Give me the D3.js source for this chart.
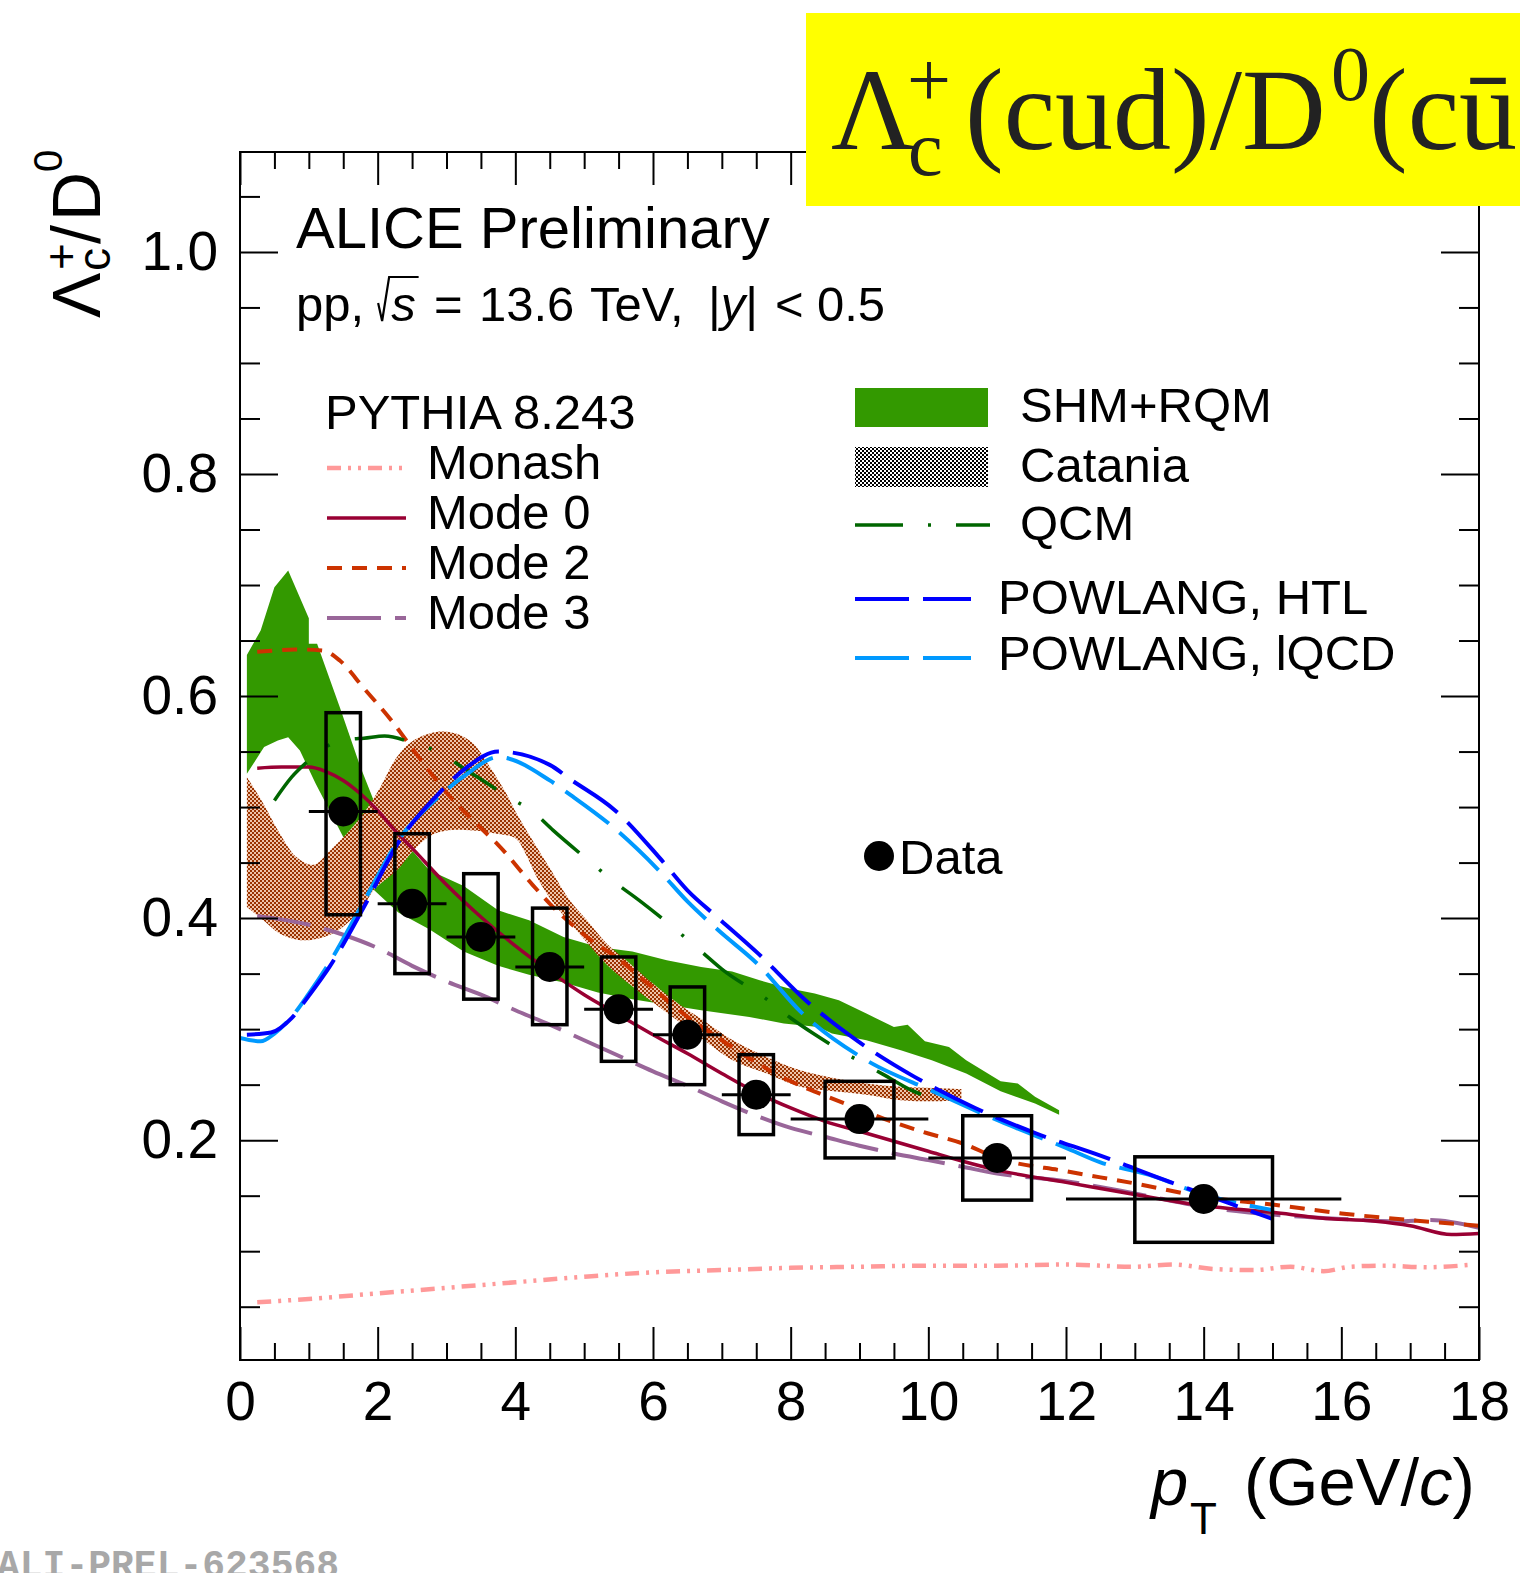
<!DOCTYPE html>
<html>
<head>
<meta charset="utf-8">
<script src="https://cdn.jsdelivr.net/npm/d3@7"></script>
<style>
  html, body { margin: 0; padding: 0; background: #fff; }
  svg { display: block; }
  text { font-family: "Liberation Sans", Arial, Helvetica, sans-serif; white-space: pre; }
</style>
</head>
<body>
<svg id="chart" width="1520" height="1573"></svg>
<script>
// ---------- data: Lambda_c+/D0 ratio, pp at 13.6 TeV ----------
const ptCenter  = [1.5, 2.5, 3.5, 4.5, 5.5, 6.5, 7.5, 9, 11, 14];
const ptHalfBin = [0.5, 0.5, 0.5, 0.5, 0.5, 0.5, 0.5, 1, 1, 2];
const boxHalfW  = [0.25, 0.25, 0.25, 0.25, 0.25, 0.25, 0.25, 0.5, 0.5, 1];
const ratio     = [0.496, 0.413, 0.383, 0.356, 0.318, 0.295, 0.241, 0.219, 0.184, 0.147];
const systHigh  = [0.585, 0.476, 0.440, 0.409, 0.365, 0.338, 0.277, 0.253, 0.222, 0.185];
const systLow   = [0.403, 0.350, 0.327, 0.304, 0.271, 0.250, 0.205, 0.184, 0.146, 0.108];

// PYTHIA 8.243 tunes
const monash = [[0.25,0.054],[1,0.057],[2,0.062],[3,0.067],[4,0.072],[5,0.077],[6,0.081],[7,0.083],[8,0.085],[9,0.086],[10,0.087],[11,0.087],[12,0.088],[12.98,0.086],[13.56,0.088],[14.14,0.084],[14.72,0.083],[15.26,0.086],[15.74,0.082],[16.13,0.086],[16.6,0.087],[17.24,0.0855],[17.92,0.088]];
const mode0 = [[0.25,0.535],[0.6,0.536],[1.0,0.536],[1.25,0.532],[1.5,0.524],[1.75,0.512],[2.0,0.497],[2.25,0.479],[2.5,0.463],[3.0,0.430],[3.5,0.401],[4.0,0.375],[4.5,0.352],[5.0,0.331],[5.5,0.313],[6.0,0.295],[6.5,0.278],[7.0,0.260],[7.5,0.243],[8.0,0.229],[8.5,0.217],[9.0,0.208],[9.5,0.199],[10.0,0.190],[10.5,0.181],[11.0,0.173],[12.0,0.162],[13.0,0.151],[14.0,0.141],[15.0,0.135],[15.7,0.130],[16.5,0.127],[17.0,0.123],[17.6,0.115],[18,0.116]];
const mode2 = [[0.25,0.640],[0.5,0.641],[0.8,0.642],[1.2,0.641],[1.45,0.632],[1.8,0.607],[2.2,0.578],[2.5,0.553],[3.0,0.513],[3.5,0.481],[3.75,0.466],[4.25,0.430],[4.5,0.413],[5.0,0.385],[5.5,0.363],[6.0,0.337],[6.5,0.311],[7.0,0.290],[7.5,0.270],[8.0,0.253],[8.5,0.240],[9.0,0.228],[9.5,0.216],[10.0,0.206],[10.5,0.197],[11.0,0.184],[12.0,0.172],[13.0,0.161],[14.0,0.149],[15.0,0.142],[16.0,0.134],[17.0,0.128],[18,0.123]];
const mode3 = [[0.25,0.402],[1.0,0.394],[1.5,0.385],[2.0,0.373],[2.5,0.357],[3.0,0.343],[3.5,0.331],[4.0,0.317],[4.5,0.304],[5.0,0.290],[5.5,0.276],[6.0,0.262],[6.5,0.249],[7.0,0.235],[7.5,0.222],[8.0,0.211],[8.5,0.203],[9.0,0.195],[9.5,0.188],[10.0,0.182],[10.5,0.176],[11.0,0.170],[12.0,0.163],[13.0,0.152],[14.0,0.140],[15.0,0.133],[16.0,0.129],[16.8,0.127],[17.3,0.128],[18,0.121]];

// transport / coalescence models
const powlangHTL = [[0.1,0.295],[0.45,0.297],[0.75,0.310],[1.0,0.330],[1.3,0.356],[1.8,0.410],[2.3,0.468],[2.9,0.513],[3.3,0.536],[3.75,0.550],[4.5,0.538],[4.8,0.525],[5.45,0.497],[6.1,0.454],[6.5,0.425],[6.95,0.400],[7.53,0.368],[8.2,0.327],[8.98,0.289],[9.8,0.257],[10.68,0.229],[11.57,0.206],[12.5,0.186],[13.44,0.164],[14.38,0.143],[15.0,0.129]];
const powlangLQCD = [[0.0,0.292],[0.3,0.289],[0.5,0.296],[0.75,0.311],[1.0,0.332],[1.3,0.360],[1.8,0.415],[2.3,0.470],[2.9,0.510],[3.3,0.530],[3.75,0.545],[4.5,0.524],[4.8,0.511],[5.4,0.483],[6.1,0.442],[6.5,0.415],[6.95,0.389],[7.53,0.358],[8.14,0.316],[9.1,0.272],[10.07,0.244],[11.04,0.217],[12.0,0.193],[12.5,0.180],[13.2,0.169],[13.95,0.152],[15.0,0.137]];
const qcm = [[0.5,0.506],[0.75,0.527],[1.0,0.542],[1.3,0.556],[1.6,0.561],[1.8,0.562],[2.1,0.564],[2.5,0.558],[2.9,0.549],[3.25,0.535],[3.5,0.525],[3.9,0.509],[4.25,0.496],[4.55,0.479],[5.1,0.450],[5.45,0.432],[5.8,0.416],[6.4,0.386],[6.7,0.370],[7.0,0.354],[7.65,0.327],[8.0,0.310],[8.33,0.296],[9.0,0.271],[9.35,0.259],[9.75,0.245],[9.9,0.241]];

// model bands (upper and lower edges)
const shmUpper = [[0.1,0.637],[0.3,0.659],[0.5,0.698],[0.7,0.713],[1.0,0.670],[1.0,0.647],[1.12,0.647],[1.45,0.590],[1.75,0.536],[2.0,0.497],[2.4,0.468],[2.75,0.443],[3.25,0.429],[3.75,0.407],[4.2,0.398],[4.7,0.383],[5.2,0.374],[5.7,0.370],[6.2,0.362],[6.7,0.356],[7.15,0.352],[7.55,0.344],[7.95,0.337],[8.35,0.332],[8.7,0.326],[9.1,0.314],[9.5,0.302],[9.7,0.304],[9.95,0.289],[10.3,0.284],[10.55,0.272],[11.05,0.253],[11.3,0.251],[11.55,0.239],[11.9,0.227]];
const shmLower = [[0.1,0.530],[0.35,0.554],[0.55,0.560],[0.7,0.563],[0.87,0.551],[1.1,0.521],[1.35,0.491],[1.7,0.449],[1.95,0.425],[2.3,0.405],[2.75,0.390],[3.25,0.370],[3.75,0.357],[4.2,0.349],[4.7,0.342],[5.2,0.333],[5.7,0.327],[6.2,0.322],[6.7,0.317],[7.4,0.311],[7.9,0.305],[8.4,0.302],[8.6,0.296],[9.1,0.290],[9.6,0.281],[10.05,0.272],[10.55,0.260],[11.05,0.244],[11.55,0.233],[11.9,0.223]];
const cataniaUpper = [[0.1,0.527],[0.34,0.503],[0.58,0.476],[0.82,0.455],[1.07,0.448],[1.31,0.461],[1.55,0.476],[1.79,0.494],[2.03,0.517],[2.28,0.545],[2.52,0.560],[2.9,0.568],[3.15,0.566],[3.39,0.557],[3.63,0.536],[3.87,0.512],[4.02,0.494],[4.31,0.464],[4.55,0.440],[4.79,0.416],[5.04,0.398],[5.33,0.377],[5.67,0.359],[6.0,0.341],[6.39,0.322],[6.68,0.310],[7.16,0.290],[7.65,0.275],[8.14,0.263],[8.62,0.256],[9.1,0.251],[9.59,0.248],[10.07,0.247],[10.48,0.246]];
const cataniaLower = [[0.1,0.410],[0.34,0.398],[0.58,0.386],[0.92,0.380],[1.31,0.385],[1.55,0.395],[1.79,0.410],[1.94,0.425],[2.28,0.443],[2.52,0.461],[2.76,0.474],[3.0,0.479],[3.39,0.479],[3.73,0.476],[4.0,0.472],[4.15,0.458],[4.31,0.437],[4.55,0.414],[5.0,0.381],[5.33,0.358],[5.71,0.338],[5.96,0.326],[6.68,0.293],[7.16,0.272],[7.65,0.260],[8.14,0.248],[8.62,0.244],[9.1,0.241],[9.6,0.236],[10.07,0.235],[10.48,0.236]];

// axis ticks
const xMajorTicks = [0, 2, 4, 6, 8, 10, 12, 14, 16, 18];
const yMajorTicks = [0.2, 0.4, 0.6, 0.8, 1.0];
const xMinorTicks = d3.range(0.5, 18, 0.5).filter(v => v % 2 !== 0);
const yMinorTicks = [0.05, 0.1, 0.15, 0.25, 0.3, 0.35, 0.45, 0.5, 0.55, 0.65, 0.7, 0.75, 0.85, 0.9, 0.95, 1.05];

// ---------- layout ----------
const L = 240, R = 1479, T = 152, B = 1360;
const svg = d3.select('#chart');
const x = d3.scaleLinear().domain([0, 18]).range([L, R]);
const y = d3.scaleLinear().domain([0.002, 1.09]).range([B, T]);

const defs = svg.append('defs');
defs.append('clipPath').attr('id', 'plotClip')
  .append('rect').attr('x', L).attr('y', T).attr('width', R - L).attr('height', B - T);
// fine checker fill: dark cells plus a lighter tint in the gaps
function checker(id, color, tint) {
  const p = defs.append('pattern').attr('id', id).attr('width', 4).attr('height', 4)
    .attr('patternUnits', 'userSpaceOnUse');
  const cells = [[0, 0, color], [2, 2, color], [2, 0, tint], [0, 2, tint]];
  cells.forEach(([cx, cy, c]) => {
    if (!c) return;
    p.append('rect').attr('x', cx).attr('y', cy).attr('width', 2).attr('height', 2)
      .attr('fill', c).attr('shape-rendering', 'crispEdges');
  });
}
checker('catPattern', '#9a3300', '#efc4aa');
checker('catLegend', '#000000', null);

const plot = svg.append('g').attr('clip-path', 'url(#plotClip)');

// band path: upper edge forward, lower edge backward
function bandPath(upper, lower, curve) {
  const ln = d3.line().x(d => x(d[0])).y(d => y(d[1])).curve(curve);
  const up = ln(upper);
  const lo = ln(lower.slice().reverse());
  return up + 'L' + lo.slice(1) + 'Z';
}

plot.append('path').attr('d', bandPath(shmUpper, shmLower, d3.curveLinear))
  .attr('fill', '#339900').attr('stroke', 'none');
plot.append('path').attr('d', bandPath(cataniaUpper, cataniaLower, d3.curveCatmullRom))
  .attr('fill', 'url(#catPattern)').attr('stroke', 'none');

const curveLine = d3.line().x(d => x(d[0])).y(d => y(d[1])).curve(d3.curveMonotoneX);
const styles = {
  monash: { color: '#ff9999', width: 4.5, dash: '14,7,3,7,3,7' },
  mode0:  { color: '#990033', width: 3.5, dash: null },
  mode2:  { color: '#cc3300', width: 4,   dash: '15,10' },
  mode3:  { color: '#996699', width: 4,   dash: '54,14' },
  qcm:    { color: '#006600', width: 3.5, dash: '50,26,3,26' },
  lqcd:   { color: '#0099ff', width: 4,   dash: '54,14' },
  htl:    { color: '#0000ff', width: 4,   dash: '54,14' }
};
function drawCurve(data, st) {
  plot.append('path').attr('d', curveLine(data)).attr('fill', 'none')
    .attr('stroke', st.color).attr('stroke-width', st.width)
    .attr('stroke-dasharray', st.dash);
}
drawCurve(monash, styles.monash);
drawCurve(mode3, styles.mode3);
drawCurve(mode2, styles.mode2);
drawCurve(mode0, styles.mode0);
drawCurve(qcm, styles.qcm);
drawCurve(powlangLQCD, styles.lqcd);
drawCurve(powlangHTL, styles.htl);

// ---------- data points ----------
const pts = ptCenter.map((c, i) => ({ c, hb: ptHalfBin[i], bw: boxHalfW[i], v: ratio[i], hi: systHigh[i], lo: systLow[i] }));
const dataG = svg.append('g');
dataG.selectAll('rect.syst').data(pts).join('rect').attr('class', 'syst')
  .attr('x', d => x(d.c - d.bw)).attr('y', d => y(d.hi))
  .attr('width', d => x(d.c + d.bw) - x(d.c - d.bw)).attr('height', d => y(d.lo) - y(d.hi))
  .attr('fill', 'none').attr('stroke', '#000').attr('stroke-width', 3.5);
dataG.selectAll('line.xerr').data(pts).join('line').attr('class', 'xerr')
  .attr('x1', d => x(d.c - d.hb)).attr('x2', d => x(d.c + d.hb))
  .attr('y1', d => y(d.v)).attr('y2', d => y(d.v))
  .attr('stroke', '#000').attr('stroke-width', 3);
dataG.selectAll('circle.pt').data(pts).join('circle').attr('class', 'pt')
  .attr('cx', d => x(d.c)).attr('cy', d => y(d.v)).attr('r', 15).attr('fill', '#000');

// ---------- axes ----------
const axG = svg.append('g');
function styleAxis(g, labelSize) {
  g.select('.domain').remove();
  g.selectAll('.tick line').attr('stroke', '#000').attr('stroke-width', 2);
  g.selectAll('.tick text').style('font-size', labelSize).style('fill', '#000')
    .style('font-family', '"Liberation Sans", Arial, sans-serif');
}
axG.append('g').attr('transform', `translate(0,${B})`)
  .call(d3.axisBottom(x).tickValues(xMajorTicks).tickSize(-33).tickPadding(21).tickFormat(d3.format('d')))
  .call(g => styleAxis(g, '55px'));
axG.append('g').attr('transform', `translate(0,${B})`)
  .call(d3.axisBottom(x).tickValues(xMinorTicks).tickSize(-17).tickFormat(''))
  .call(g => styleAxis(g, '0px'));
axG.append('g').attr('transform', `translate(0,${T})`)
  .call(d3.axisTop(x).tickValues(xMajorTicks).tickSize(-33).tickFormat(''))
  .call(g => styleAxis(g, '0px'));
axG.append('g').attr('transform', `translate(0,${T})`)
  .call(d3.axisTop(x).tickValues(xMinorTicks).tickSize(-17).tickFormat(''))
  .call(g => styleAxis(g, '0px'));
axG.append('g').attr('transform', `translate(${L},0)`)
  .call(d3.axisLeft(y).tickValues(yMajorTicks).tickSize(-38).tickPadding(22).tickFormat(d3.format('.1f')))
  .call(g => styleAxis(g, '55px'));
axG.append('g').attr('transform', `translate(${L},0)`)
  .call(d3.axisLeft(y).tickValues(yMinorTicks).tickSize(-20).tickFormat(''))
  .call(g => styleAxis(g, '0px'));
axG.append('g').attr('transform', `translate(${R},0)`)
  .call(d3.axisRight(y).tickValues(yMajorTicks).tickSize(-38).tickFormat(''))
  .call(g => styleAxis(g, '0px'));
axG.append('g').attr('transform', `translate(${R},0)`)
  .call(d3.axisRight(y).tickValues(yMinorTicks).tickSize(-20).tickFormat(''))
  .call(g => styleAxis(g, '0px'));
axG.append('rect').attr('x', L).attr('y', T).attr('width', R - L).attr('height', B - T)
  .attr('fill', 'none').attr('stroke', '#000').attr('stroke-width', 2);

// x title: p_T (GeV/c)
const xt = svg.append('g');
xt.append('text').attr('x', 1151).attr('y', 1505).style('font-size', '67px').style('font-style', 'italic').text('p');
xt.append('text').attr('x', 1190).attr('y', 1534).style('font-size', '44px').text('T');
const xtt = xt.append('text').attr('x', 1244).attr('y', 1505).style('font-size', '67px');
xtt.append('tspan').text('(GeV/');
xtt.append('tspan').style('font-style', 'italic').text('c');
xtt.append('tspan').text(')');

// y title: Lambda_c^+ / D^0 (rotated)
const yt = svg.append('g').attr('transform', 'translate(100,318) rotate(-90)');
yt.append('text').attr('x', 0).attr('y', 0).style('font-size', '68px').text('Λ');
yt.append('text').attr('x', 47).attr('y', 10).style('font-size', '46px').text('c');
yt.append('text').attr('x', 48).attr('y', -23).style('font-size', '46px').text('+');
yt.append('text').attr('x', 74).attr('y', 0).style('font-size', '68px').text('/');
yt.append('text').attr('x', 97).attr('y', 0).style('font-size', '68px').text('D');
yt.append('text').attr('x', 146).attr('y', -38).style('font-size', '40px').text('0');

// ---------- header text ----------
svg.append('text').attr('x', 296).attr('y', 248).style('font-size', '58px').text('ALICE Preliminary');

const sysG = svg.append('g').style('font-size', '49px');
const baseY = 321;
const t1 = sysG.append('text').attr('x', 296).attr('y', baseY).text('pp,');
const w1 = t1.node().getComputedTextLength();
const rx = 296 + w1 + 14;
const sT = sysG.append('text').attr('x', rx + 13).attr('y', baseY).style('font-style', 'italic').text('s');
const sW = sT.node().getComputedTextLength();
sysG.append('path')
  .attr('d', `M${rx},${baseY - 18} L${rx + 4},${baseY} L${rx + 11},${baseY - 44} L${rx + 13 + sW + 3},${baseY - 44}`)
  .attr('fill', 'none').attr('stroke', '#000').attr('stroke-width', 2.2);
sysG.append('text').attr('x', 434).attr('y', baseY).text('=');
sysG.append('text').attr('x', 479).attr('y', baseY).text('13.6');
sysG.append('text').attr('x', 590).attr('y', baseY).text('TeV,');
const t3 = sysG.append('text').attr('x', 708).attr('y', baseY);
t3.append('tspan').text('|');
t3.append('tspan').style('font-style', 'italic').text('y');
t3.append('tspan').text('|');
sysG.append('text').attr('x', 775).attr('y', baseY).text('<');
sysG.append('text').attr('x', 817).attr('y', baseY).text('0.5');

// ---------- legends ----------
const legL = svg.append('g').style('font-size', '49px');
legL.append('text').attr('x', 325).attr('y', 429).text('PYTHIA 8.243');
const pyEntries = [
  { label: 'Monash', st: styles.monash, y: 468, tb: 479 },
  { label: 'Mode 0', st: styles.mode0, y: 518, tb: 529 },
  { label: 'Mode 2', st: styles.mode2, y: 568, tb: 579 },
  { label: 'Mode 3', st: styles.mode3, y: 618, tb: 629 }
];
pyEntries.forEach(e => {
  legL.append('line').attr('x1', 327).attr('x2', 406).attr('y1', e.y).attr('y2', e.y)
    .attr('stroke', e.st.color).attr('stroke-width', e.st.width).attr('stroke-dasharray', e.st.dash);
  legL.append('text').attr('x', 427).attr('y', e.tb).text(e.label);
});

const legR = svg.append('g').style('font-size', '49px');
legR.append('rect').attr('x', 855).attr('y', 388).attr('width', 133).attr('height', 39).attr('fill', '#339900');
legR.append('text').attr('x', 1020).attr('y', 422).text('SHM+RQM');
legR.append('rect').attr('x', 855).attr('y', 447).attr('width', 133).attr('height', 40).attr('fill', 'url(#catLegend)');
legR.append('text').attr('x', 1020).attr('y', 482).text('Catania');
legR.append('line').attr('x1', 855).attr('x2', 990).attr('y1', 525).attr('y2', 525)
  .attr('stroke', styles.qcm.color).attr('stroke-width', styles.qcm.width).attr('stroke-dasharray', '48,25,3,25');
legR.append('text').attr('x', 1020).attr('y', 540).text('QCM');
legR.append('line').attr('x1', 855).attr('x2', 971).attr('y1', 599).attr('y2', 599)
  .attr('stroke', styles.htl.color).attr('stroke-width', 4).attr('stroke-dasharray', '54,14');
legR.append('text').attr('x', 998).attr('y', 614).text('POWLANG, HTL');
legR.append('line').attr('x1', 855).attr('x2', 971).attr('y1', 658).attr('y2', 658)
  .attr('stroke', styles.lqcd.color).attr('stroke-width', 4).attr('stroke-dasharray', '54,14');
legR.append('text').attr('x', 998).attr('y', 670).text('POWLANG, lQCD');

legR.append('circle').attr('cx', 879).attr('cy', 856).attr('r', 15).attr('fill', '#000');
legR.append('text').attr('x', 899).attr('y', 874).text('Data');

// ---------- title box ----------
const tb = svg.append('g');
tb.append('rect').attr('x', 806).attr('y', 13).attr('width', 720).attr('height', 193).attr('fill', '#ffff00');
const serif = '"Liberation Serif", "Times New Roman", serif';
function ttext(xp, yp, size, s) {
  return tb.append('text').attr('x', xp).attr('y', yp).style('font-family', serif)
    .style('font-size', size + 'px').style('fill', '#222').text(s);
}
ttext(831, 149, 116, 'Λ');
ttext(907, 106, 78, '+');
ttext(908, 175, 78, 'c');
ttext(965, 149, 116, '(cud)/D');
ttext(1331, 100, 78, '0');
ttext(1369, 149, 116, '(cū)');

// ---------- figure id ----------
svg.append('text').attr('x', -3).attr('y', 1577)
  .style('font-family', '"Liberation Mono", "Courier New", monospace').style('font-weight', 'bold')
  .style('font-size', '38px').style('fill', '#a8a8a8').text('ALI-PREL-623568');
</script>
</body>
</html>
